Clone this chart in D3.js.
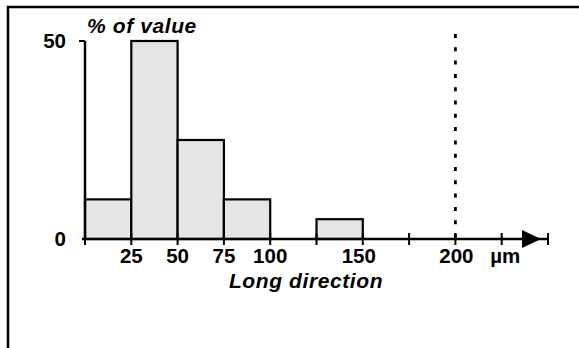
<!DOCTYPE html>
<html lang="en">

<head>
  <meta charset="UTF-8" />
  <title>Long direction</title>
  <style>
    body { margin: 0; background: #fff; }
    svg text { font-family: "Liberation Sans", Arial, sans-serif; font-weight: bold; fill: #000; }
    .italic { font-style: italic; }
  </style>
</head>

<body>
  <div id="chart"></div>
</body>
<script src="https://d3js.org/d3.v7.min.js"></script>
<script>
  // histogram bins (µm) and share of values (%)
  const binStart=[0,25,50,75,125];
  const binEnd=[25,50,75,100,150];
  const percent=[10,50,25,10,5];
  const xTicks=[0,25,50,75,100,125,150,175,200,225,250];
  const xLabels=[[25,'25'],[50,'50'],[75,'75'],[100,'100'],[150,'150'],[200,'200'],[225,'µm']];
  const yTicks=[0,50];
  const limit=200;

  const W=579,H=348;
  const svg=d3.select('#chart').append('svg').attr('width',W).attr('height',H);

  // frame (top and left edges only visible)
  svg.append('path').attr('d',`M8,${H+5}V7H${W+5}`)
     .attr('fill','none').attr('stroke','#000').attr('stroke-width',2.5);

  const x=d3.scaleLinear().domain([0,250]).range([85,548]);
  const y=d3.scaleLinear().domain([0,50]).range([239,41]);

  // bars
  svg.selectAll('rect.bar').data(percent).enter().append('rect')
     .attr('class','bar')
     .attr('x',(d,i)=>x(binStart[i]))
     .attr('width',(d,i)=>x(binEnd[i])-x(binStart[i]))
     .attr('y',d=>y(d))
     .attr('height',d=>y(0)-y(d))
     .attr('fill','#e5e5e5').attr('stroke','#000').attr('stroke-width',2.2);

  // dotted limit line
  svg.append('line')
     .attr('x1',x(limit)).attr('x2',x(limit))
     .attr('y1',34).attr('y2',y(0))
     .attr('stroke','#000').attr('stroke-width',2.8).attr('stroke-dasharray','4,9.3');

  // x axis
  svg.append('line').attr('x1',x(0)-3).attr('x2',x(250))
     .attr('y1',y(0)).attr('y2',y(0)).attr('stroke','#000').attr('stroke-width',2.5);
  svg.selectAll('line.xt').data(xTicks).enter().append('line')
     .attr('class','xt')
     .attr('x1',d=>x(d)).attr('x2',d=>x(d))
     .attr('y1',y(0)-6).attr('y2',y(0)+6)
     .attr('stroke','#000').attr('stroke-width',2);
  svg.append('path')
     .attr('d',`M${x(250)-26},${y(0)-9}L${x(250)-7},${y(0)}L${x(250)-26},${y(0)+9}Z`)
     .attr('fill','#000');
  svg.selectAll('text.xl').data(xLabels).enter().append('text')
     .attr('class','xl')
     .attr('x',d=>x(d[0])+(d[0]>=150?-4+(d[0]-150)/10:0))
     .attr('y',263).attr('text-anchor','middle')
     .style('font-size','20.5px')
     .text(d=>d[1]);
  svg.append('text').attr('class','italic')
     .attr('x',306).attr('y',288).attr('text-anchor','middle')
     .style('font-size','21px').style('letter-spacing','0.6px').text('Long direction');

  // y axis
  svg.append('line').attr('x1',x(0)).attr('x2',x(0))
     .attr('y1',y(50)).attr('y2',y(0)).attr('stroke','#000').attr('stroke-width',2.5);
  svg.append('line').attr('x1',x(0)-6).attr('x2',x(0))
     .attr('y1',y(50)).attr('y2',y(50)).attr('stroke','#000').attr('stroke-width',2);
  svg.selectAll('text.yl').data(yTicks).enter().append('text')
     .attr('class','yl')
     .attr('x',66).attr('y',d=>y(d)+6.5).attr('text-anchor','end')
     .style('font-size','20.5px')
     .text(d=>d);
  svg.append('text').attr('class','italic')
     .attr('x',87).attr('y',33)
     .style('font-size','21px').style('letter-spacing','0.6px').text('% of value');
</script>
</html>
